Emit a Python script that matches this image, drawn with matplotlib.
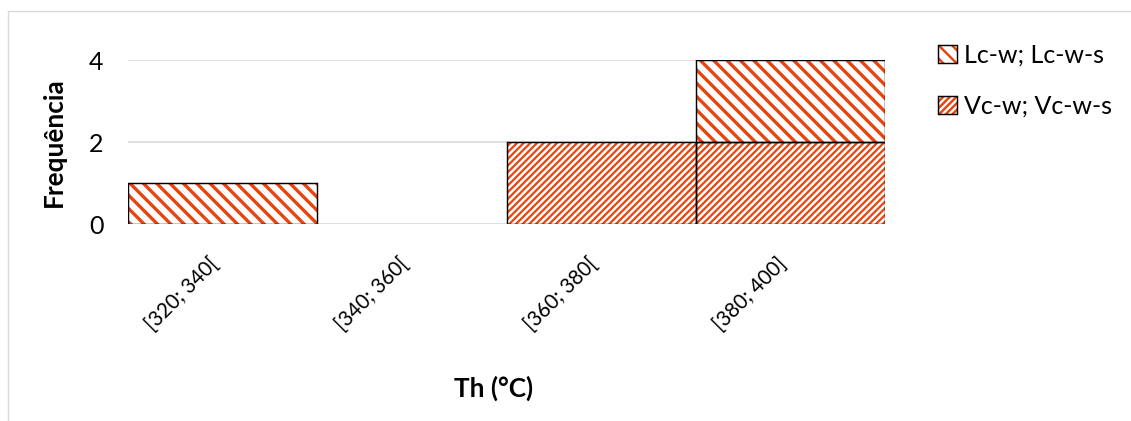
import matplotlib
matplotlib.use("Agg")
import matplotlib.pyplot as plt
from matplotlib.patches import Patch
from matplotlib.lines import Line2D
from matplotlib.transforms import ScaledTranslation
import numpy as np

# Homogenisation temperature classes and frequencies per inclusion type
categories = ["[320; 340[", "[340; 360[", "[360; 380[", "[380; 400]"]
vc_counts = [0, 0, 2, 2]   # Vc-w; Vc-w-s
lc_counts = [1, 0, 0, 2]   # Lc-w; Lc-w-s
yticks = [0, 2, 4]
series_labels = ["Lc-w; Lc-w-s", "Vc-w; Vc-w-s"]

DPI = 80
W, H = 1131, 421
FS = 22.5
FSX = 18.5
FSB = 23.5
ORANGE = "#E8440E"
GRID = "#D9D9D9"
LC_HATCH, LC_HLW = "\\\\", 3.0
VC_HATCH, VC_HLW = "////", 2.0

plt.rcParams["font.family"] = ["Lato", "DejaVu Sans"]
plt.rcParams["hatch.linewidth"] = 2.2

fig = plt.figure(figsize=(W / DPI, H / DPI), dpi=DPI)
ax = fig.add_axes([128 / W, 1 - 224 / H, (885 - 128) / W, (224 - 60) / H])

x = np.arange(len(categories))
vc = np.array(vc_counts, dtype=float)
lc = np.array(lc_counts, dtype=float)


def hatched(values, bottom, hatch, hlw):
    bars = ax.bar(x, values, bottom=bottom, width=1.0, color="white",
                  edgecolor=ORANGE, hatch=hatch, linewidth=0, zorder=2)
    for b in bars:
        if hasattr(b, "set_hatch_linewidth"):
            b.set_hatch_linewidth(hlw)
    ax.bar(x, values, bottom=bottom, width=1.0, fill=False,
           edgecolor="black", linewidth=[1.3 if v > 0 else 0 for v in values],
           zorder=3)


hatched(vc, 0, VC_HATCH, VC_HLW)
hatched(lc, vc, LC_HATCH, LC_HLW)

ax.set_xlim(-0.5, len(categories) - 0.5)
ax.set_ylim(0, 4)
ax.set_yticks(yticks)
ax.set_xticks(x)
ax.set_xticklabels(categories, rotation=45, ha="right", va="center",
                   rotation_mode="anchor", fontsize=FSX)
ax.tick_params(axis="both", length=0, labelcolor="black")
ax.tick_params(axis="y", labelsize=FS, pad=22)
ax.tick_params(axis="x", pad=33)
shift = ScaledTranslation(-7 / DPI, 0, fig.dpi_scale_trans)
for lab in ax.get_xticklabels():
    lab.set_transform(lab.get_transform() + shift)
for s in ax.spines.values():
    s.set_visible(False)
ax.yaxis.grid(True, color=GRID, linewidth=1.5, zorder=0)
ax.set_axisbelow(True)

ax.set_ylabel("Frequência", fontsize=FSB, fontweight="bold")
ax.yaxis.set_label_coords((54 - 128) / 757, 0.5)
ax.yaxis.label.set_va("center")
ax.set_xlabel("Th (°C)", fontsize=FSB, fontweight="bold")
ax.xaxis.set_label_coords((494 - 128) / 757, (224 - 388) / 164)
ax.xaxis.label.set_va("center")

# legend: hatched square with black outline
handles = []
for hatch, hlw in ((LC_HATCH, LC_HLW), (VC_HATCH, VC_HLW)):
    p = Patch(facecolor="white", edgecolor=ORANGE, hatch=hatch, linewidth=0)
    if hasattr(p, "set_hatch_linewidth"):
        p.set_hatch_linewidth(hlw)
    o = Patch(fill=False, edgecolor="black", linewidth=1.3)
    handles.append((p, o))
fig.legend(handles, series_labels, loc="upper left",
           bbox_to_anchor=(938 / W, 1 - 44 / H), bbox_transform=fig.transFigure,
           frameon=False, fontsize=FS, handlelength=0.75, handleheight=0.75,
           handletextpad=0.3, labelspacing=1.1, borderpad=0, borderaxespad=0)

# chart-area border
fig.add_artist(Line2D([8 / W, 1.0], [1 - 11 / H, 1 - 11 / H],
                      transform=fig.transFigure, color=GRID, linewidth=1.2))
fig.add_artist(Line2D([8 / W, 8 / W], [1 - 11 / H, 0.0],
                      transform=fig.transFigure, color=GRID, linewidth=1.2))

fig.savefig("out.png", dpi=DPI, facecolor="white")
